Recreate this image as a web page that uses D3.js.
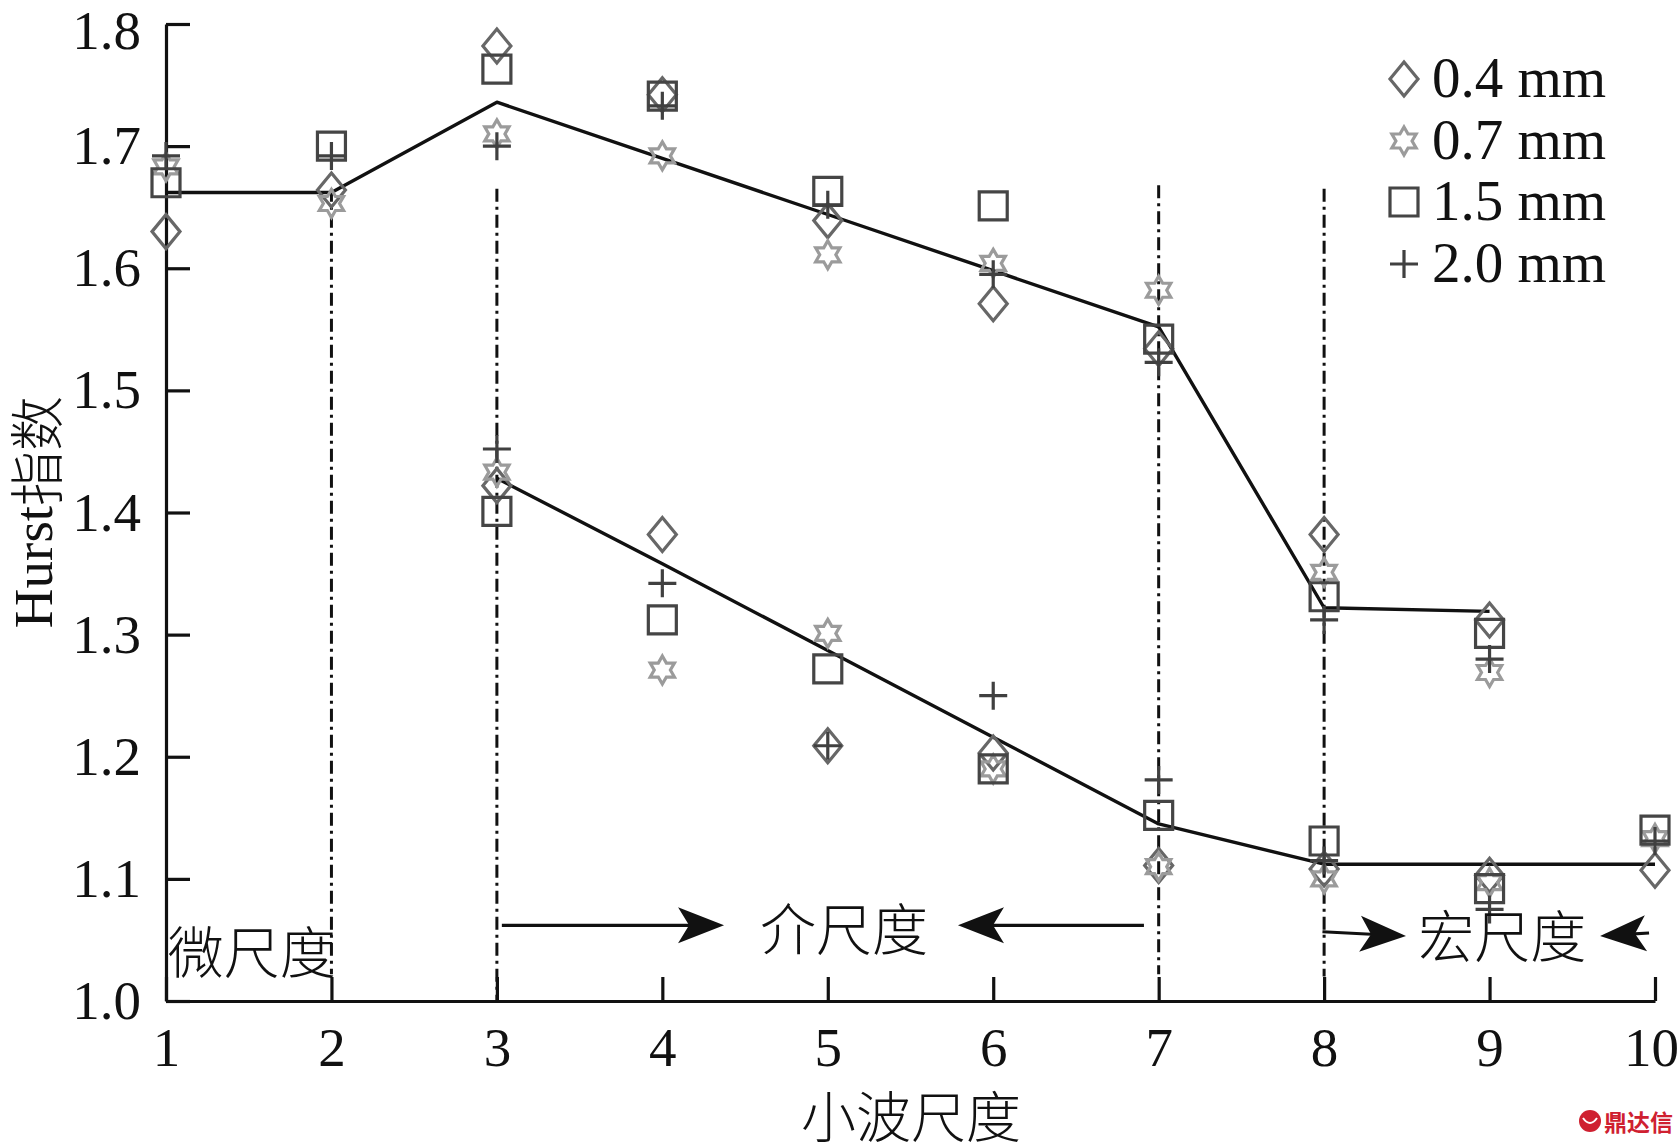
<!DOCTYPE html>
<html>
<head>
<meta charset="utf-8">
<script src="https://cdn.jsdelivr.net/npm/d3@7"></script>
<style>
  html, body { margin: 0; padding: 0; background: #fff; }
  svg { display: block; }
  text { font-family: "Liberation Serif", "Noto Sans CJK SC", serif; fill: #111; }
</style>
</head>
<body>
<svg id="chart" width="1680" height="1145"></svg>
<script>
// ---------------- data ----------------
const scales = [1, 2, 3, 4, 5, 6, 7, 8, 9, 10];
const xTicks = [1, 2, 3, 4, 5, 6, 7, 8, 9, 10];
const yTicks = [1.0, 1.1, 1.2, 1.3, 1.4, 1.5, 1.6, 1.7, 1.8];
const seriesNames = ["0.4 mm", "0.7 mm", "1.5 mm", "2.0 mm"];

// upper group: wavelet scales 1..9
const upperScales = [1, 2, 3, 4, 5, 6, 7, 8, 9];
const d04Upper = [1.630, 1.664, 1.782, 1.742, 1.639, 1.571, 1.534, 1.382, 1.312];
const d07Upper = [1.683, 1.653, 1.710, 1.692, 1.611, 1.604, 1.582, 1.351, 1.269];
const d15Upper = [1.670, 1.700, 1.763, 1.741, 1.663, 1.651, 1.542, 1.331, 1.301];
const d20Upper = [1.692, 1.692, 1.700, 1.733, 1.652, 1.595, 1.523, 1.312, 1.280];

// lower group: wavelet scales 3..10
const lowerScales = [3, 4, 5, 6, 7, 8, 9, 10];
const d04Lower = [1.422, 1.382, 1.209, 1.203, 1.111, 1.108, 1.103, 1.107];
const d07Lower = [1.433, 1.271, 1.301, 1.190, 1.110, 1.100, 1.097, 1.133];
const d15Lower = [1.401, 1.312, 1.272, 1.190, 1.152, 1.131, 1.092, 1.140];
const d20Lower = [1.452, 1.342, 1.209, 1.250, 1.181, 1.115, 1.075, 1.131];

// fitted trend lines
const fitUpper = [1.662, 1.662, 1.736, 1.690, 1.644, 1.598, 1.552, 1.322, 1.319];
const fitLower = [1.428, 1.358, 1.287, 1.216, 1.145, 1.112, 1.112, 1.112];

// dash-dot boundaries between scale ranges: [x, yTop, yBottom]
const boundaries = [[2, 1.665, 1.022], [3, 1.665, 1.0], [7, 1.668, 1.022], [8, 1.665, 1.020]];

// region labels: [text, x, y, anchor]
const regionLabels = [["微尺度", 1.01, 1.043, "start"], ["介尺度", 5.098, 1.062, "middle"], ["宏尺度", 9.076, 1.0557, "middle"]];
// arrows: [xFrom, yFrom, xTip, yTip]
const arrows = [[3.03, 1.062, 4.373, 1.062], [6.911, 1.062, 5.787, 1.062],
                [7.99, 1.0567, 8.495, 1.0532], [9.964, 1.0557, 9.668, 1.0532]];

// ---------------- drawing ----------------
const svg = d3.select("#chart");
svg.append("rect").attr("width", 1680).attr("height", 1145).attr("fill", "#fff");

const x = d3.scaleLinear().domain([1, 10]).range([166, 1655]);
const y = d3.scaleLinear().domain([1.0, 1.8]).range([1001, 24]);

const styles = [
  { shape: "diamond", color: "#676767" },
  { shape: "star", color: "#9b9b9b" },
  { shape: "square", color: "#454545" },
  { shape: "plus", color: "#404040" }
];

function shapePath(shape) {
  if (shape === "diamond") return "M0,-17L14,0L0,17L-14,0Z";
  if (shape === "square") return "M-14,-14H14V14H-14Z";
  if (shape === "plus") return "M-14,0H14M0,-14V14";
  if (shape === "star") {
    const R = 14, r = R / Math.sqrt(3), pts = [];
    for (let i = 0; i < 12; i++) {
      const a = -Math.PI / 2 + i * Math.PI / 6;
      const rad = i % 2 === 0 ? R : r;
      pts.push([rad * Math.cos(a), rad * Math.sin(a)]);
    }
    return "M" + pts.map(p => p[0].toFixed(2) + "," + p[1].toFixed(2)).join("L") + "Z";
  }
}

// boundaries (dash-dot)
svg.append("g").selectAll("line").data(boundaries).join("line")
  .attr("x1", d => x(d[0])).attr("x2", d => x(d[0]))
  .attr("y1", d => y(d[1])).attr("y2", d => y(d[2]))
  .attr("stroke", "#111").attr("stroke-width", 3)
  .attr("stroke-dasharray", "13,5,3,5");

// axes
const yAxis = d3.axisLeft(y).tickValues(yTicks).tickFormat(d3.format(".1f"))
  .tickSizeInner(-24).tickSizeOuter(0).tickPadding(25);
const xAxis = d3.axisBottom(x).tickValues(xTicks).tickFormat(d3.format("d"))
  .tickSizeInner(-24).tickSizeOuter(0).tickPadding(26);

const gy = svg.append("g").attr("transform", "translate(166,0)").call(yAxis);
const gx = svg.append("g").attr("transform", "translate(0,1001)").call(xAxis);
[gx, gy].forEach(g => {
  g.select(".domain").attr("stroke", "#111").attr("stroke-width", 3.2);
  g.selectAll(".tick line").attr("stroke", "#111").attr("stroke-width", 3.2);
  g.selectAll(".tick text").attr("font-size", 55).attr("fill", "#111")
    .style("font-family", "'Liberation Serif', serif");
});
gy.selectAll(".tick text").attr("dy", "0.32em");
gy.selectAll(".tick text").filter(d => d === 1.8).attr("dy", "0.45em");
gx.selectAll(".tick text").filter(d => d === 10).attr("dx", -4);

// fit lines
const lineGen = d3.line().x(d => x(d[0])).y(d => y(d[1]));
svg.append("path").datum(upperScales.map((s, i) => [s, fitUpper[i]]))
  .attr("d", lineGen).attr("fill", "none").attr("stroke", "#111").attr("stroke-width", 3.4)
  .attr("stroke-linejoin", "round");
svg.append("path").datum(lowerScales.map((s, i) => [s, fitLower[i]]))
  .attr("d", lineGen).attr("fill", "none").attr("stroke", "#111").attr("stroke-width", 3.4)
  .attr("stroke-linejoin", "round");

// markers
const upperSets = [d04Upper, d07Upper, d15Upper, d20Upper];
const lowerSets = [d04Lower, d07Lower, d15Lower, d20Lower];
styles.forEach((st, k) => {
  const pts = upperScales.map((s, i) => [s, upperSets[k][i]])
    .concat(lowerScales.map((s, i) => [s, lowerSets[k][i]]));
  svg.append("g").selectAll("path").data(pts).join("path")
    .attr("transform", d => `translate(${x(d[0])},${y(d[1])})`)
    .attr("d", shapePath(st.shape))
    .attr("fill", "none").attr("stroke", st.color).attr("stroke-width", 3.2);
});

// region labels
svg.append("g").selectAll("text").data(regionLabels).join("text")
  .attr("x", d => x(d[1])).attr("y", d => y(d[2]))
  .attr("text-anchor", d => d[3]).attr("dominant-baseline", "central")
  .attr("font-size", 56)
  .style("font-family", "'Noto Sans CJK SC', sans-serif")
  .style("font-weight", 300)
  .text(d => d[0]);

// arrows
const ag = svg.append("g");
arrows.forEach(a => {
  const x1 = x(a[0]), y1 = y(a[1]), x2 = x(a[2]), y2 = y(a[3]);
  const ang = Math.atan2(y2 - y1, x2 - x1) * 180 / Math.PI;
  ag.append("line").attr("x1", x1).attr("y1", y1).attr("x2", x2 - 30 * Math.cos(ang * Math.PI / 180))
    .attr("y2", y2 - 30 * Math.sin(ang * Math.PI / 180))
    .attr("stroke", "#111").attr("stroke-width", 3.2);
  ag.append("path").attr("d", "M0,0L-46,-18L-35,0L-46,18Z")
    .attr("transform", `translate(${x2},${y2}) rotate(${ang})`)
    .attr("fill", "#111");
});

// axis titles
svg.append("text").attr("x", 911).attr("y", 1113)
  .attr("text-anchor", "middle").attr("dominant-baseline", "central")
  .attr("font-size", 55).style("font-family", "'Noto Sans CJK SC', sans-serif").style("font-weight", 300)
  .text("小波尺度");
const yt = svg.append("text").attr("transform", "translate(33,512) rotate(-90)")
  .attr("text-anchor", "middle").attr("dominant-baseline", "central").attr("font-size", 55);
yt.append("tspan").style("font-family", "'Liberation Serif', serif").text("Hurst");
yt.append("tspan").style("font-family", "'Noto Sans CJK SC', sans-serif").style("font-weight", 300).text("指数");

// legend
const legY = [79, 141, 202, 264];
const lg = svg.append("g");
seriesNames.forEach((name, i) => {
  lg.append("path").attr("transform", `translate(1404,${legY[i]})`)
    .attr("d", shapePath(styles[i].shape))
    .attr("fill", "none").attr("stroke", styles[i].color).attr("stroke-width", 3.2);
  lg.append("text").attr("x", 1432).attr("y", legY[i] + 18)
    .attr("font-size", 57).style("font-family", "'Liberation Serif', serif").text(name);
});

// watermark
const wm = svg.append("g");
wm.append("circle").attr("cx", 1590).attr("cy", 1121).attr("r", 11).attr("fill", "#cf2030");
wm.append("path").attr("d", "M1583,1118 Q1590,1128 1597,1118").attr("fill", "none")
  .attr("stroke", "#fff").attr("stroke-width", 2);
wm.append("text").attr("x", 1604).attr("y", 1131).attr("font-size", 23)
  .style("font-family", "'Noto Sans CJK SC', sans-serif").style("font-weight", 700)
  .style("fill", "#cf2030").text("鼎达信");
</script>
</body>
</html>
